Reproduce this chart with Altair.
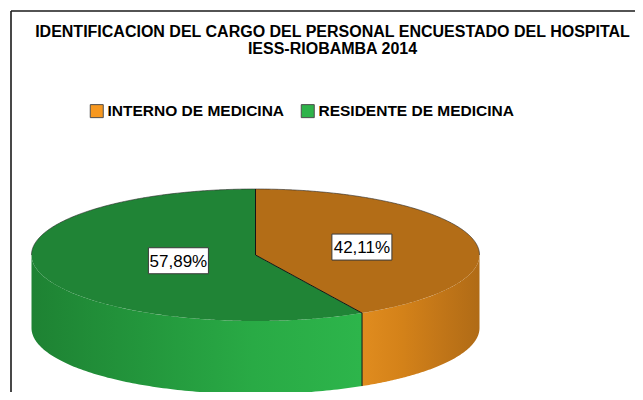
import numpy as np
import pandas as pd
import altair as alt

# ---------------- data ----------------
TITLE_LINES = ["IDENTIFICACION DEL CARGO DEL PERSONAL ENCUESTADO DEL HOSPITAL",
               "IESS-RIOBAMBA 2014"]
CATEGORIES = ["INTERNO DE MEDICINA", "RESIDENTE DE MEDICINA"]
PERCENTS = [42.11, 57.89]

# ---------------- style ----------------
LEGEND_COLORS = ["#F7981F", "#2EB34A"]
TOP_COLORS = ["#B36D17", "#208436"]
SIDE_GRADIENTS = [
    ["#E08C1F", "#D48219", "#C27618", "#B06B16"],  # orange side: seam -> right edge
    ["#1E8233", "#23963C", "#29AA45", "#2DB54B"],  # green side: left edge -> seam
]
FONT = "Liberation Sans"

# pie geometry (page pixels)
CX, CY, RX, RY, DEPTH = 255.5, 255.0, 224.0, 66.0, 73.0
LABEL_RADIUS = [0.49, 0.355]
BOX_W, BOX_H = 60, 26

frac = np.array(PERCENTS) / sum(PERCENTS)
ends = np.cumsum(frac) * 2 * np.pi
starts = ends - frac * 2 * np.pi
TS = ends[0]  # boundary angle (clockwise from 12 o'clock)


def ex(t):
    return CX + RX * np.sin(t)


def ey(t):
    return CY - RY * np.cos(t)


def half(x):
    return RY * np.sqrt(np.clip(1 - ((x - CX) / RX) ** 2, 0, 1))


XS_, YS_ = ex(TS), ey(TS)


def seam_line(x):
    return CY + (YS_ - CY) * (x - CX) / (XS_ - CX)


# ---- top faces (x-sorted bands) ----
xa = np.unique(np.concatenate([ex(np.linspace(0, np.pi / 2, 160)), [XS_]]))
top_orange = pd.DataFrame(dict(
    x=xa, y=CY - half(xa),
    y2=[seam_line(x) if x <= XS_ else CY + half(x) for x in xa]))

xl = ex(np.linspace(-np.pi / 2, 0, 160))
xl[-1] = CX - 0.01
xr = np.concatenate([[CX], ex(np.linspace(0, np.arcsin((XS_ - CX) / RX), 60))[1:]])
top_green = pd.DataFrame(dict(
    x=np.concatenate([xl, xr]),
    y=np.concatenate([CY - half(xl), seam_line(xr)]),
    y2=np.concatenate([CY + half(xl), CY + half(xr)])))


# ---- side walls (visible front half) ----
def side(t0, t1):
    xs = np.sort(ex(np.linspace(t0, t1, 120)))
    return pd.DataFrame(dict(x=xs, y=CY + half(xs), y2=CY + half(xs) + DEPTH))


side_orange = side(np.pi / 2, TS)
side_green = side(TS, 1.5 * np.pi)

# ---- outlines ----
rim_t = np.linspace(-np.pi / 2, np.pi / 2, 200)
rim_df = pd.DataFrame(dict(i=np.arange(len(rim_t)), x=ex(rim_t), y=ey(rim_t)))
seam_df = pd.DataFrame(dict(i=[0, 1, 2, 3],
                            x=[ex(0.0), CX, XS_, XS_],
                            y=[ey(0.0), CY, YS_, YS_ + DEPTH]))

# ---- labels ----
mids = (starts + ends) / 2
lab_df = pd.DataFrame(dict(
    slice=CATEGORIES,
    text=[f"{p:.2f}".replace(".", ",") + "%" for p in PERCENTS],
    lx=[CX + RX * r * np.sin(m) for r, m in zip(LABEL_RADIUS, mids)],
    ly=[CY - RY * r * np.cos(m) for r, m in zip(LABEL_RADIUS, mids)],
))

legend_df = pd.DataFrame(dict(slice=CATEGORIES))
title_df = pd.DataFrame(dict(t=["\n".join(TITLE_LINES)]))

# ---------------- scales (plot area = page x 8..635, y 70..392) ----------------
W, H, PAD_TOP = 627, 322, 62
XSC = alt.Scale(domain=[8, 8 + W], nice=False, zero=False)
YSC = alt.Scale(domain=[8 + PAD_TOP, 8 + PAD_TOP + H], nice=False, zero=False, reverse=True)


def X(f):
    return alt.X(f, type="quantitative", scale=XSC, axis=None)


def Y(f):
    return alt.Y(f, type="quantitative", scale=YSC, axis=None, stack=None)


def grad(colors):
    n = len(colors)
    return alt.Gradient(gradient="linear",
                        stops=[alt.GradientStop(color=c, offset=j / (n - 1)) for j, c in enumerate(colors)],
                        x1=0, x2=1, y1=0, y2=0)


side_o = alt.Chart(side_orange).mark_area(fill=grad(SIDE_GRADIENTS[0]), strokeWidth=0).encode(
    x=X("x"), y=Y("y"), y2="y2")
side_g = alt.Chart(side_green).mark_area(fill=grad(SIDE_GRADIENTS[1]), strokeWidth=0).encode(
    x=X("x"), y=Y("y"), y2="y2")

top_o = alt.Chart(top_orange).mark_area(fill=TOP_COLORS[0], strokeWidth=0).encode(
    x=X("x"), y=Y("y"), y2="y2")
top_g = alt.Chart(top_green).mark_area(fill=TOP_COLORS[1], strokeWidth=0).encode(
    x=X("x"), y=Y("y"), y2="y2")

rim = alt.Chart(rim_df).mark_line(color="#2a2a2a", strokeWidth=1, opacity=0.6).encode(
    x=X("x"), y=Y("y"), order=alt.Order("i:Q"))
seam = alt.Chart(seam_df).mark_line(color="#151515", strokeWidth=1).encode(
    x=X("x"), y=Y("y"), order=alt.Order("i:Q"))

boxes = alt.Chart(lab_df).transform_calculate(
    x0=f"datum.lx - {BOX_W / 2}", x1=f"datum.lx + {BOX_W / 2}",
    y0=f"datum.ly - {BOX_H / 2}", y1=f"datum.ly + {BOX_H / 2}",
).mark_rect(fill="white", stroke="#3a3a3a", strokeWidth=1).encode(
    x=X("x0"), x2="x1", y=Y("y0"), y2="y1")

texts = alt.Chart(lab_df).mark_text(font=FONT, fontSize=17, color="black", baseline="middle",
                                    align="center", dy=1).encode(
    x=X("lx"), y=Y("ly"), text="text:N")

title = alt.Chart(title_df).mark_text(font=FONT, fontSize=16, fontWeight="bold", color="black",
                                      align="center", baseline="top", lineBreak="\n",
                                      lineHeight=17).encode(
    x=alt.value(324.5), y=alt.value(-45.8), text="t:N")

frame_df = pd.DataFrame(dict(a=[0]))
frame_left = alt.Chart(frame_df).mark_rule(color="#1a1a1a", strokeWidth=1.6).encode(
    x=alt.value(3), y=alt.value(-59), y2=alt.value(H))
frame_top = alt.Chart(frame_df).mark_rule(color="#1a1a1a", strokeWidth=1.6).encode(
    x=alt.value(3), x2=alt.value(W), y=alt.value(-59))

legend_layer = alt.Chart(legend_df).transform_filter("false").mark_square().encode(
    color=alt.Color("slice:N",
                    scale=alt.Scale(domain=CATEGORIES, range=LEGEND_COLORS),
                    legend=alt.Legend(title=None, orient="none", legendX=81, legendY=33,
                                      direction="horizontal", symbolType="square", symbolSize=169,
                                      symbolStrokeColor="#4d4d4d", symbolStrokeWidth=1,
                                      symbolOpacity=1, labelFont=FONT, labelFontSize=15.5,
                                      labelFontWeight="bold", labelColor="black", labelOffset=3,
                                      columnPadding=14, padding=0, labelLimit=400))
)

chart = alt.layer(side_o, side_g, top_o, top_g, rim, seam, boxes, texts, title,
                  frame_left, frame_top, legend_layer).properties(
    width=W, height=H,
    padding={"left": 0, "top": PAD_TOP, "right": 0, "bottom": 0},
    autosize=alt.AutoSizeParams(type="none"),
    background="white",
).configure_view(stroke=None)

chart.save("out.html", embed_options={"renderer": "svg", "actions": False})
